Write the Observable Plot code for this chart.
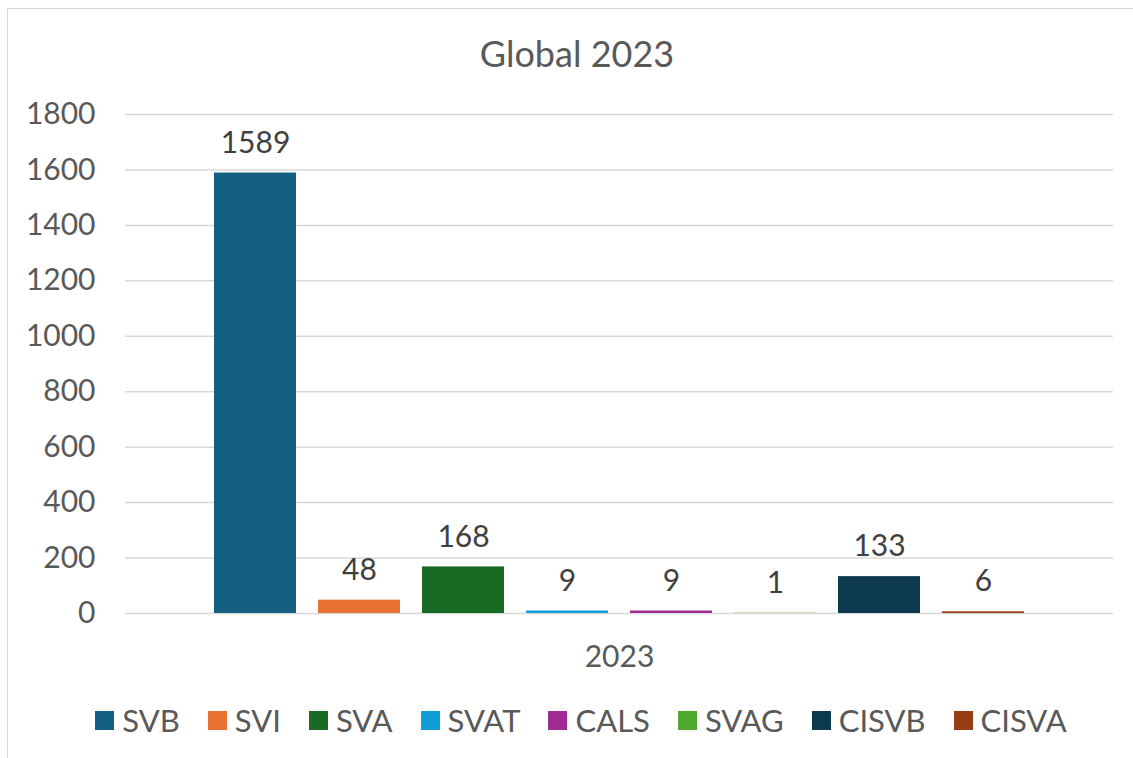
<!DOCTYPE html>
<html>
<head>
<meta charset="utf-8">
<script src="https://cdn.jsdelivr.net/npm/d3@7"></script>
<script src="https://cdn.jsdelivr.net/npm/@observablehq/plot@0.6"></script>
<style>
  html, body { margin: 0; padding: 0; background: #fff; overflow: hidden; }
  body { width: 1133px; height: 758px; position: relative; font-family: Lato, "Open Sans", sans-serif; color: #595959; }
  #frame { position: absolute; left: 7px; top: 8px; width: 1200px; height: 800px; border-left: 1.5px solid #d9d9d9; border-top: 1.5px solid #d9d9d9; }
  #title { position: absolute; left: 0; top: 30px; width: 1154px; text-align: center; font-size: 36px; line-height: 46px; }
  #chart { position: absolute; left: 0; top: 95px; }
  #legend { position: absolute; left: 0; top: 700px; width: 1162px; display: flex; justify-content: center; align-items: center; font-size: 31px; line-height: 40px; }
  .item { display: flex; align-items: center; margin: 0 14px; }
  .sw { width: 19px; height: 19px; margin-right: 8px; }
</style>
</head>
<body>
<div id="frame"></div>
<div id="title">Global 2023</div>
<div id="chart"></div>
<div id="legend"></div>
<script>
const series = ["SVB", "SVI", "SVA", "SVAT", "CALS", "SVAG", "CISVB", "CISVA"];
const values = [1589, 48, 168, 9, 9, 1, 133, 6];
const colors = ["#156082", "#E97132", "#196B24", "#0F9ED5", "#A02B93", "#4EA72E", "#0E3A4F", "#953D10"];
const yTicks = [0, 200, 400, 600, 800, 1000, 1200, 1400, 1600, 1800];
const year = "2023";

const data = series.map((s, i) => ({series: s, value: values[i], year}));

const chart = Plot.plot({
  width: 1133,
  height: 595,
  marginTop: 19,
  marginBottom: 77,
  marginLeft: 125,
  marginRight: 20,
  style: {fontFamily: "Lato, 'Open Sans', sans-serif", fontSize: "30px", color: "#595959", background: "transparent"},
  fx: {domain: [year], padding: 0, label: null},
  x: {domain: series, paddingInner: 0.21, paddingOuter: 0.85, axis: null},
  y: {domain: [0, 1800], ticks: yTicks, label: null},
  color: {domain: series, range: colors},
  marks: [
    Plot.ruleY(yTicks, {stroke: "#d9d9d9", strokeWidth: 1.5}),
    Plot.axisY(yTicks, {tickSize: 0, tickPadding: 30, fontSize: 30, fill: "#595959", label: null, tickFormat: d => String(d)}),
    Plot.axisFx({anchor: "bottom", tickSize: 0, tickPadding: 32, fontSize: 30, fill: "#595959", label: null}),
    Plot.barY(data, {fx: "year", x: "series", y: "value", fill: "series"}),
    Plot.text(data, {fx: "year", x: "series", y: "value", text: d => String(d.value), dy: -30, fontSize: 30, fill: "#404040"})
  ]
});
document.getElementById("chart").appendChild(chart);

const legend = document.getElementById("legend");
series.forEach((s, i) => {
  const item = document.createElement("div");
  item.className = "item";
  const sw = document.createElement("div");
  sw.className = "sw";
  sw.style.background = colors[i];
  const label = document.createElement("span");
  label.textContent = s;
  item.appendChild(sw);
  item.appendChild(label);
  legend.appendChild(item);
});
</script>
</body>
</html>
